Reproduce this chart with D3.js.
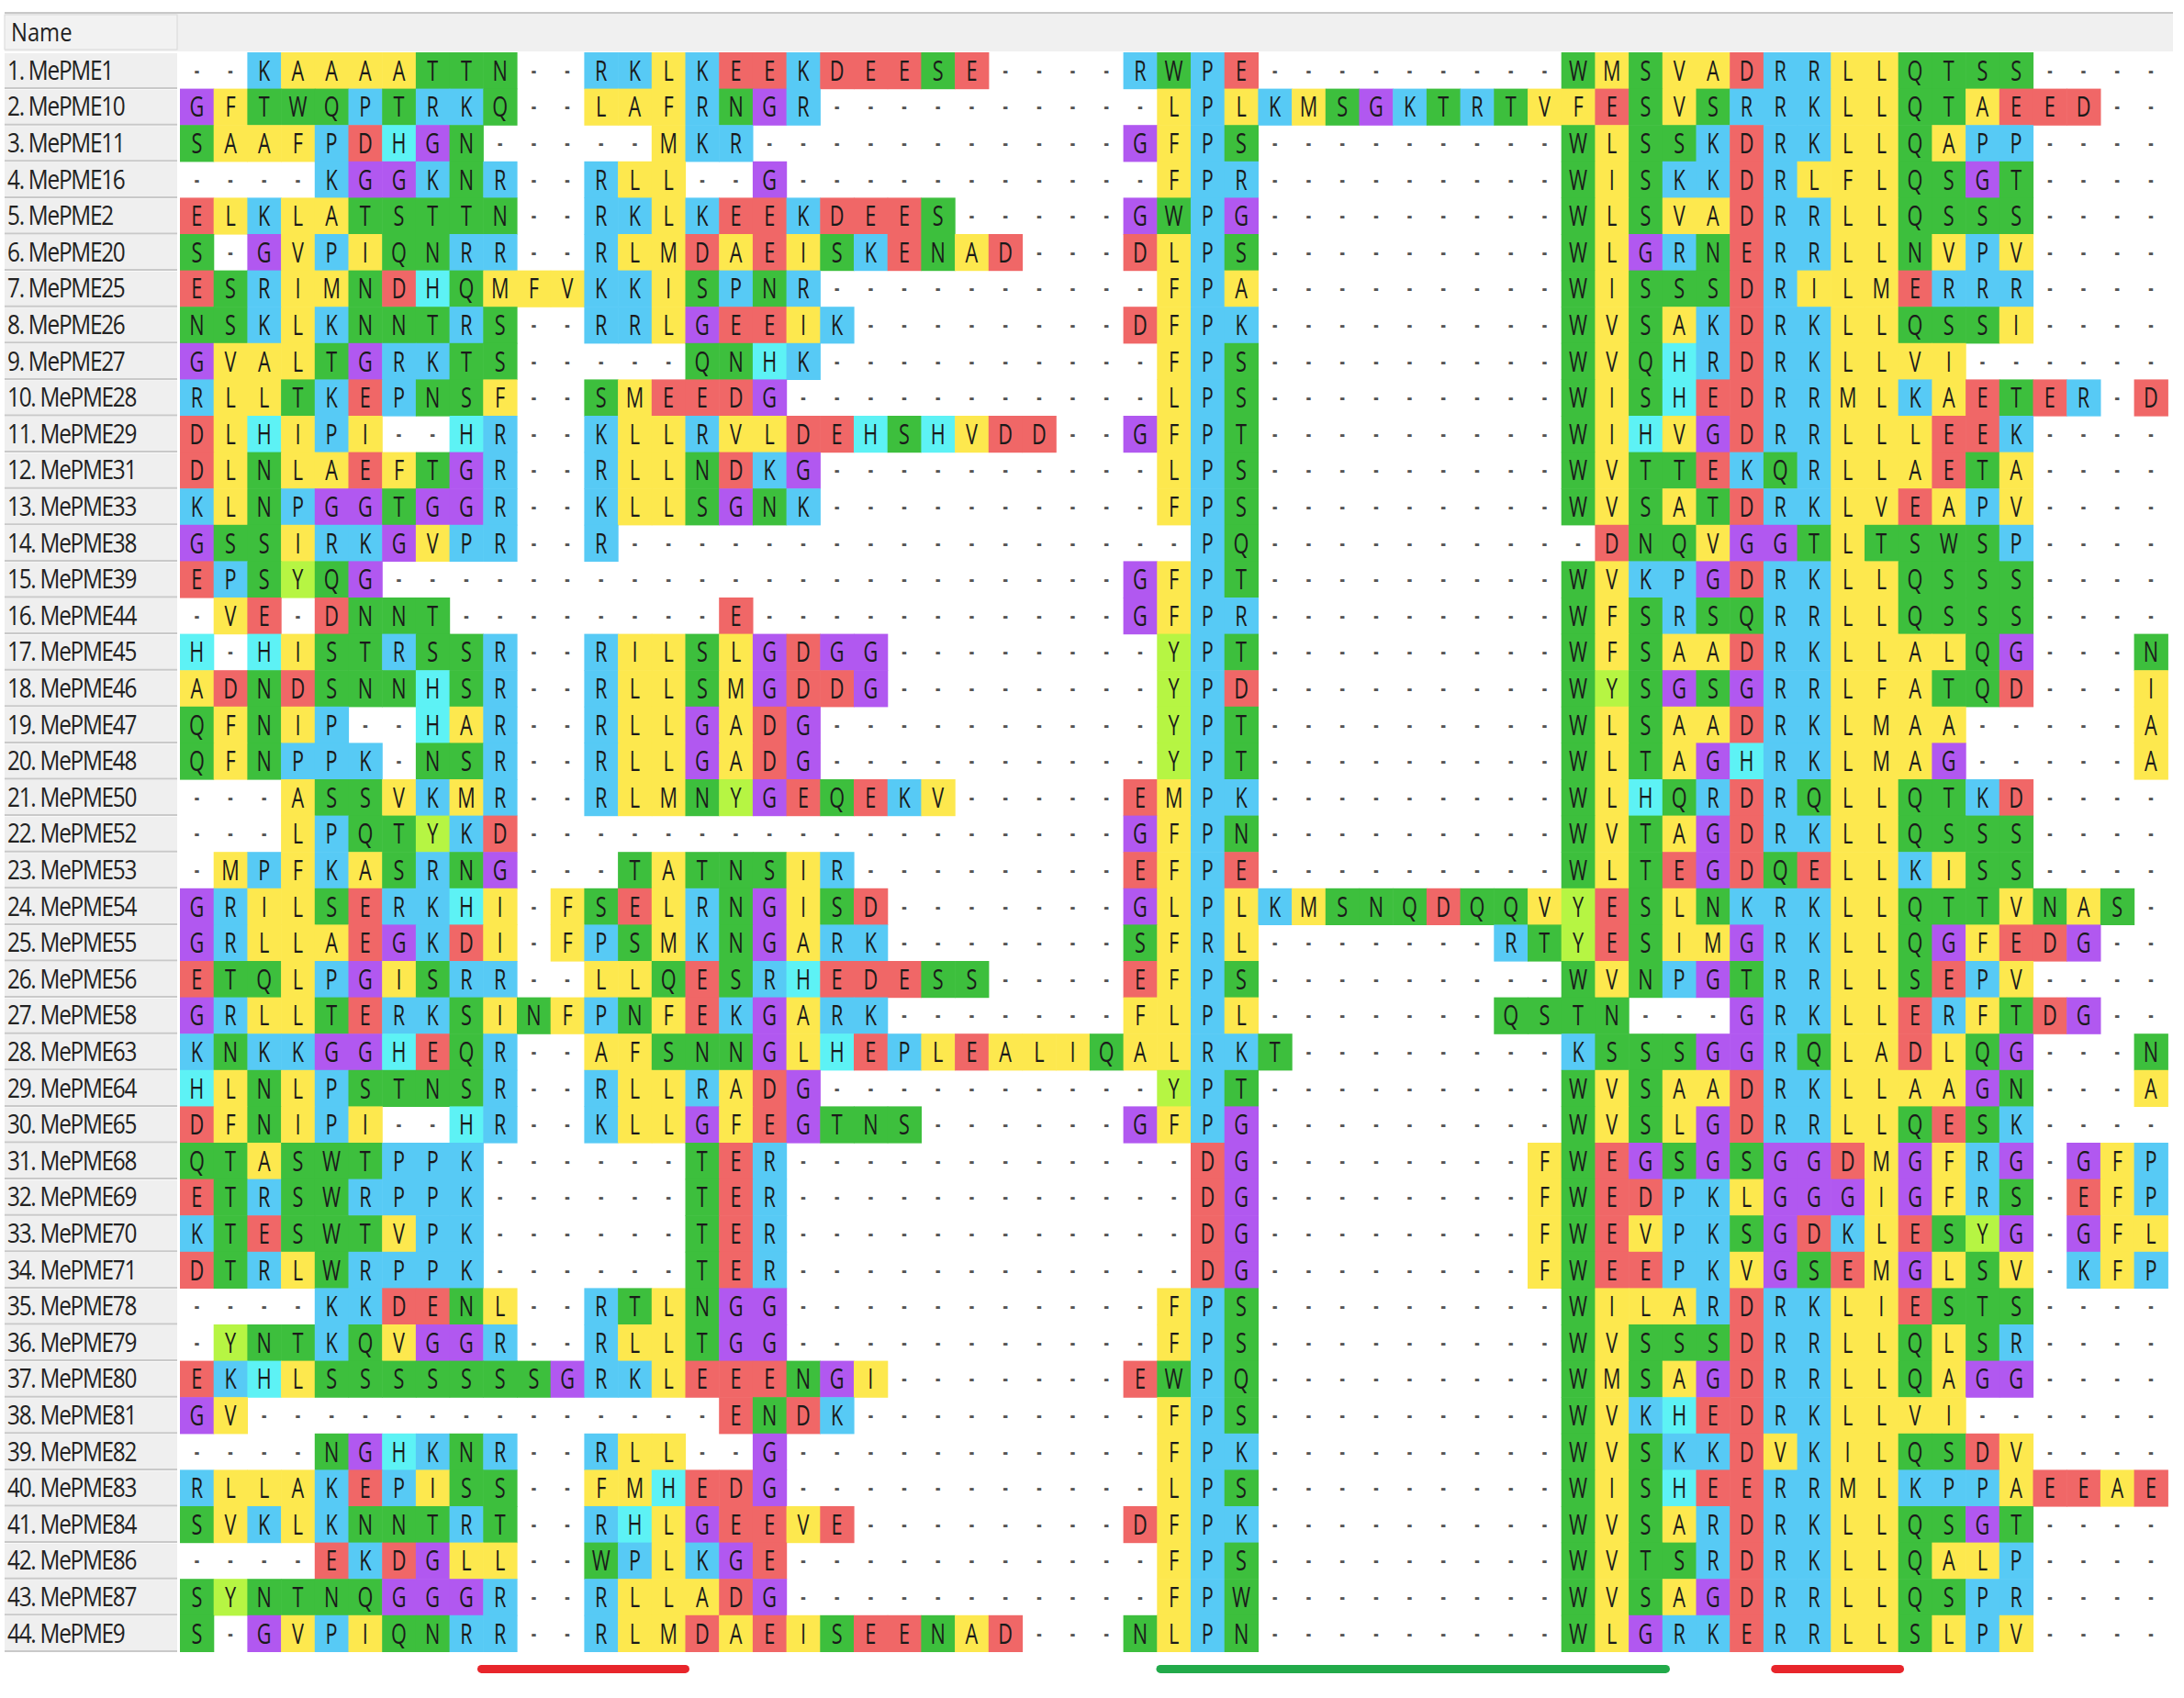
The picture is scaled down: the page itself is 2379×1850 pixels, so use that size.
<!DOCTYPE html>
<html><head><meta charset="utf-8">
<script src="https://cdn.jsdelivr.net/npm/d3@7"></script>
<style>body{margin:0;background:#fff}svg{display:block}</style>
</head><body>
<script>
const names = ["MePME1","MePME10","MePME11","MePME16","MePME2","MePME20","MePME25","MePME26","MePME27","MePME28","MePME29","MePME31","MePME33","MePME38","MePME39","MePME44","MePME45","MePME46","MePME47","MePME48","MePME50","MePME52","MePME53","MePME54","MePME55","MePME56","MePME58","MePME63","MePME64","MePME65","MePME68","MePME69","MePME70","MePME71","MePME78","MePME79","MePME80","MePME81","MePME82","MePME83","MePME84","MePME86","MePME87","MePME9"];
const seqs = [
"--KAAAATTN--RKLKEEKDEESE----RWPE---------WMSVADRRLLQTSS----",
"GFTWQPTRKQ--LAFRNGR----------LPLKMSGKTRTVFESVSRRKLLQTAEED--",
"SAAFPDHGN-----MKR-----------GFPS---------WLSSKDRKLLQAPP----",
"----KGGKNR--RLL--G-----------FPR---------WISKKDRLFLQSGT----",
"ELKLATSTTN--RKLKEEKDEES-----GWPG---------WLSVADRRLLQSSS----",
"S-GVPIQNRR--RLMDAEISKENAD---DLPS---------WLGRNERRLLNVPV----",
"ESRIMNDHQMFVKKISPNR----------FPA---------WISSSDRILMERRR----",
"NSKLKNNTRS--RRLGEEIK--------DFPK---------WVSAKDRKLLQSSI----",
"GVALTGRKTS-----QNHK----------FPS---------WVQHRDRKLLVI------",
"RLLTKEPNSF--SMEEDG-----------LPS---------WISHEDRRMLKAETER-D",
"DLHIPI--HR--KLLRVLDEHSHVDD--GFPT---------WIHVGDRRLLLEEK----",
"DLNLAEFTGR--RLLNDKG----------LPS---------WVTTEKQRLLAETA----",
"KLNPGGTGGR--KLLSGNK----------FPS---------WVSATDRKLVEAPV----",
"GSSIRKGVPR--R-----------------PQ----------DNQVGGTLTSWSP----",
"EPSYQG----------------------GFPT---------WVKPGDRKLLQSSS----",
"-VE-DNNT--------E-----------GFPR---------WFSRSQRRLLQSSS----",
"H-HISTRSSR--RILSLGDGG--------YPT---------WFSAADRKLLALQG---N",
"ADNDSNNHSR--RLLSMGDDG--------YPD---------WYSGSGRRLFATQD---I",
"QFNIP--HAR--RLLGADG----------YPT---------WLSAADRKLMAA-----A",
"QFNPPK-NSR--RLLGADG----------YPT---------WLTAGHRKLMAG-----A",
"---ASSVKMR--RLMNYGEQEKV-----EMPK---------WLHQRDRQLLQTKD----",
"---LPQTYKD------------------GFPN---------WVTAGDRKLLQSSS----",
"-MPFKASRNG---TATNSIR--------EFPE---------WLTEGDQELLKISS----",
"GRILSERKHI-FSELRNGISD-------GLPLKMSNQDQQVYESLNKRKLLQTTVNAS-",
"GRLLAEGKDI-FPSMKNGARK-------SFRL-------RTYESIMGRKLLQGFEDG--",
"ETQLPGISRR--LLQESRHEDESS----EFPS---------WVNPGTRRLLSEPV----",
"GRLLTERKSINFPNFEKGARK-------FLPL-------QSTN---GRKLLERFTDG--",
"KNKKGGHEQR--AFSNNGLHEPLEALIQALRKT--------KSSSGGRQLADLQG---N",
"HLNLPSTNSR--RLLRADG----------YPT---------WVSAADRKLLAAGN---A",
"DFNIPI--HR--KLLGFEGTNS------GFPG---------WVSLGDRRLLQESK----",
"QTASWTPPK------TER------------DG--------FWEGSGSGGDMGFRG-GFP",
"ETRSWRPPK------TER------------DG--------FWEDPKLGGGIGFRS-EFP",
"KTESWTVPK------TER------------DG--------FWEVPKSGDKLESYG-GFL",
"DTRLWRPPK------TER------------DG--------FWEEPKVGSEMGLSV-KFP",
"----KKDENL--RTLNGG-----------FPS---------WILARDRKLIESTS----",
"-YNTKQVGGR--RLLTGG-----------FPS---------WVSSSDRRLLQLSR----",
"EKHLSSSSSSSGRKLEEENGI-------EWPQ---------WMSAGDRRLLQAGG----",
"GV--------------ENDK---------FPS---------WVKHEDRKLLVI------",
"----NGHKNR--RLL--G-----------FPK---------WVSKKDVKILQSDV----",
"RLLAKEPISS--FMHEDG-----------LPS---------WISHEERRMLKPPAEEAE",
"SVKLKNNTRT--RHLGEEVE--------DFPK---------WVSARDRKLLQSGT----",
"----EKDGLL--WPLKGE-----------FPS---------WVTSRDRKLLQALP----",
"SYNTNQGGGR--RLLADG-----------FPW---------WVSAGDRRLLQSPR----",
"S-GVPIQNRR--RLMDAEISEENAD---NLPN---------WLGRKERRLLSLPV----"
];
// motif underline bars: [startCol, endCol] (0-based column positions), colour
const bars = [[8.95,15.0,"#e8252b"],[29.1,44.1,"#22aa4a"],[47.35,51.05,"#e8252b"]];
const palette = {K:"#57caf5",R:"#57caf5",P:"#57caf5",H:"#5df2f5",D:"#f06767",E:"#f06767",
  S:"#3dbf3d",T:"#3dbf3d",N:"#3dbf3d",Q:"#3dbf3d",W:"#3dbf3d",
  A:"#fde84e",L:"#fde84e",I:"#fde84e",M:"#fde84e",F:"#fde84e",V:"#fde84e",C:"#fde84e",
  G:"#b158f0",Y:"#b6f543"};

const W=2379,H=1850;
const nCol=59, x0=196, colW=36.7, y0=57, rowH=39.6;
const svg=d3.select("body").append("svg").attr("width",W).attr("height",H);
const x=d3.scaleLinear().domain([0,nCol]).range([x0,x0+nCol*colW]);
const y=d3.scaleBand().domain(d3.range(names.length)).range([y0,y0+names.length*rowH]).padding(0);
const FONT="'Open Sans', 'Noto Sans', sans-serif";

// header
svg.append("rect").attr("x",5).attr("y",14).attr("width",2362).attr("height",42).attr("fill","#f0f0f0");
svg.append("line").attr("x1",5).attr("x2",2367).attr("y1",14).attr("y2",14).attr("stroke","#c8c8c8").attr("stroke-width",2);
svg.append("rect").attr("x",5).attr("y",16).attr("width",188).attr("height",38).attr("fill","#f2f2f2").attr("stroke","#d8d8d8");
svg.append("text").attr("x",12).attr("y",45).text("Name").attr("font-family",FONT).attr("font-size",28)
 .attr("transform","translate(12,0) scale(0.85,1) translate(-12,0)").attr("fill","#222");

// name cells
const ng=svg.append("g");
ng.selectAll("rect").data(names).join("rect")
 .attr("x",5).attr("y",(d,i)=>y(i)+1).attr("width",188).attr("height",rowH-2).attr("fill","#efefef");
ng.selectAll("line").data(names).join("line")
 .attr("x1",5).attr("x2",193).attr("y1",(d,i)=>y(i)+rowH-0.5).attr("y2",(d,i)=>y(i)+rowH-0.5).attr("stroke","#c9c9c9").attr("stroke-width",2);
ng.selectAll("text").data(names).join("text")
 .attr("x",8).attr("y",(d,i)=>y(i)+rowH/2+10).text((d,i)=>(i+1)+". "+d)
 .attr("font-family",FONT).attr("font-size",29).attr("letter-spacing",-1.5)
 .attr("transform","translate(8,0) scale(0.84,1) translate(-8,0)").attr("fill","#222");

// cells
const cells=[];
seqs.forEach((s,r)=>{for(let c=0;c<nCol;c++){cells.push({r,c,ch:s[c]||"-"});}});
const g=svg.append("g");
g.selectAll("rect").data(cells.filter(d=>d.ch!=="-")).join("rect")
 .attr("x",d=>x(d.c)).attr("y",d=>y(d.r)).attr("width",colW+0.6).attr("height",rowH+0.6)
 .attr("fill",d=>palette[d.ch]||"#fff");
g.selectAll("text").data(cells).join("text")
 .attr("x",d=>x(d.c)+colW/2).attr("y",d=>y(d.r)+rowH/2+(d.ch==="-"?8:11))
 .attr("text-anchor","middle")
 .attr("font-family",FONT)
 .attr("font-weight",d=>d.ch==="-"?700:400)
 .attr("font-size",d=>d.ch==="-"?24:31)
 .attr("fill",d=>d.ch==="-"?"#555":"#1a1a1a")
 .attr("transform",d=>`translate(${x(d.c)+colW/2},0) scale(0.7,1) translate(${-(x(d.c)+colW/2)},0)`)
 .text(d=>d.ch);

// motif bars
const barY=y0+names.length*rowH+19;
svg.selectAll(".bar").data(bars).join("line").attr("class","bar")
 .attr("x1",d=>x(d[0])).attr("x2",d=>x(d[1])).attr("y1",barY).attr("y2",barY)
 .attr("stroke",d=>d[2]).attr("stroke-width",9).attr("stroke-linecap","round");
</script>
</body></html>
